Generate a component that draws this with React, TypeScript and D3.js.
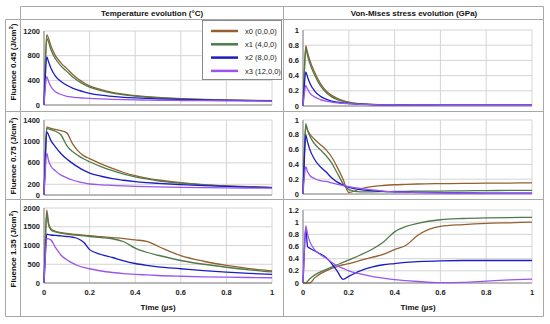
import React from "react";
import * as d3 from "d3";

const T = [0, 0.005, 0.012, 0.02, 0.03, 0.05, 0.075, 0.1, 0.125, 0.15, 0.175, 0.2, 0.25, 0.3, 0.35, 0.4, 0.45, 0.5, 0.6, 0.7, 0.8, 0.9, 1.0];

const seriesNames = ["x0 (0,0,0)", "x1 (4,0,0)", "x2 (8,0,0)", "x3 (12,0,0)"];
const seriesColors = ["#94602f", "#4f7a4a", "#1c1cc4", "#9a55f0"];

// Temperature, fluence 0.45
const tempA0 = [0, 600, 1140, 1080, 960, 800, 680, 590, 500, 420, 360, 310, 250, 205, 175, 150, 135, 122, 105, 92, 82, 75, 70];
const tempA1 = [0, 560, 1080, 1020, 900, 750, 630, 545, 460, 390, 335, 290, 232, 192, 165, 143, 128, 117, 100, 88, 80, 73, 68];
const tempA2 = [0, 400, 780, 700, 600, 470, 380, 320, 275, 240, 212, 190, 160, 140, 125, 115, 107, 100, 90, 82, 76, 71, 67];
const tempA3 = [0, 250, 460, 380, 300, 215, 170, 140, 128, 118, 112, 106, 98, 92, 87, 83, 80, 77, 73, 70, 68, 66, 64];

// Temperature, fluence 0.75
const tempB0 = [0, 640, 1270, 1260, 1245, 1225, 1200, 1160, 960, 820, 730, 680, 580, 495, 420, 360, 315, 280, 230, 195, 172, 155, 142];
const tempB1 = [0, 620, 1240, 1235, 1220, 1190, 1120, 920, 810, 735, 672, 620, 530, 455, 390, 340, 300, 265, 220, 188, 165, 150, 138];
const tempB2 = [0, 600, 1180, 1120, 1020, 900, 770, 670, 590, 520, 460, 410, 350, 305, 275, 250, 232, 218, 195, 175, 160, 148, 138];
const tempB3 = [0, 400, 780, 640, 540, 450, 370, 320, 280, 250, 225, 205, 190, 180, 170, 162, 156, 151, 143, 137, 133, 130, 127];

// Temperature, fluence 1.35
const tempC0 = [0, 1000, 1950, 1600, 1450, 1380, 1345, 1325, 1305, 1290, 1275, 1260, 1235, 1210, 1185, 1150, 1110, 980, 730, 580, 470, 385, 320];
const tempC1 = [0, 950, 1850, 1550, 1420, 1360, 1330, 1305, 1285, 1270, 1255, 1240, 1210, 1180, 1100, 930, 820, 740, 600, 500, 420, 350, 295];
const tempC2 = [0, 660, 1300, 1290, 1280, 1270, 1255, 1240, 1220, 1180, 1080, 890, 760, 680, 590, 520, 470, 430, 380, 330, 290, 255, 230];
const tempC3 = [0, 600, 1180, 1175, 1150, 950, 740, 620, 530, 460, 415, 380, 320, 280, 250, 230, 215, 200, 180, 165, 155, 147, 140];

// Stress, fluence 0.45
const stressD0 = [0, 0.4, 0.79, 0.7, 0.6, 0.45, 0.3, 0.2, 0.14, 0.1, 0.07, 0.05, 0.03, 0.02, 0.017, 0.015, 0.013, 0.012, 0.011, 0.01, 0.01, 0.01, 0.01];
const stressD1 = [0, 0.38, 0.75, 0.66, 0.56, 0.41, 0.27, 0.18, 0.12, 0.085, 0.06, 0.045, 0.028, 0.02, 0.016, 0.014, 0.013, 0.012, 0.011, 0.01, 0.01, 0.01, 0.01];
const stressD2 = [0, 0.23, 0.45, 0.38, 0.3, 0.2, 0.13, 0.09, 0.065, 0.05, 0.04, 0.032, 0.024, 0.018, 0.015, 0.013, 0.012, 0.011, 0.01, 0.01, 0.01, 0.01, 0.01];
const stressD3 = [0, 0.14, 0.27, 0.22, 0.17, 0.12, 0.085, 0.065, 0.05, 0.04, 0.035, 0.03, 0.022, 0.018, 0.015, 0.013, 0.012, 0.011, 0.01, 0.01, 0.01, 0.01, 0.01];

// Stress, fluence 0.75
const stressE0 = [0, 0.45, 0.92, 0.86, 0.81, 0.74, 0.67, 0.6, 0.5, 0.36, 0.2, 0.02, 0.07, 0.1, 0.115, 0.125, 0.13, 0.135, 0.14, 0.143, 0.146, 0.148, 0.15];
const stressE1 = [0, 0.47, 0.95, 0.86, 0.78, 0.68, 0.6, 0.52, 0.42, 0.28, 0.14, 0.06, 0.03, 0.03, 0.032, 0.034, 0.036, 0.038, 0.04, 0.043, 0.046, 0.048, 0.05];
const stressE2 = [0, 0.4, 0.8, 0.7, 0.6, 0.47, 0.37, 0.3, 0.22, 0.16, 0.12, 0.09, 0.06, 0.045, 0.035, 0.03, 0.025, 0.022, 0.018, 0.015, 0.013, 0.012, 0.01];
const stressE3 = [0, 0.2, 0.37, 0.3, 0.25, 0.21, 0.18, 0.17, 0.15, 0.13, 0.115, 0.1, 0.075, 0.055, 0.04, 0.03, 0.025, 0.02, 0.015, 0.012, 0.01, 0.01, 0.01];

// Stress, fluence 1.35
const stressF0 = [0, 0, 0, 0, 0, 0.08, 0.15, 0.2, 0.24, 0.27, 0.3, 0.32, 0.37, 0.42, 0.47, 0.55, 0.62, 0.78, 0.93, 0.96, 0.98, 0.99, 1.0];
const stressF1 = [0, 0, 0, 0.03, 0.07, 0.13, 0.18, 0.22, 0.26, 0.3, 0.34, 0.38, 0.46, 0.55, 0.67, 0.84, 0.93, 0.98, 1.04, 1.06, 1.07, 1.075, 1.08];
const stressF2 = [0, 0.45, 0.9, 0.6, 0.57, 0.53, 0.48, 0.42, 0.32, 0.19, 0.06, 0.11, 0.2, 0.26, 0.3, 0.32, 0.34, 0.35, 0.365, 0.37, 0.37, 0.37, 0.37];
const stressF3 = [0, 0.45, 0.94, 0.8, 0.68, 0.55, 0.47, 0.41, 0.34, 0.28, 0.24, 0.2, 0.15, 0.11, 0.08, 0.055, 0.04, 0.025, 0.005, 0.01, 0.03, 0.05, 0.065];

const xTicks = [0, 0.2, 0.4, 0.6, 0.8, 1];
const ticksA = [0, 400, 800, 1200];
const ticksB = [0, 200, 600, 1000, 1400];
const ticksC = [0, 500, 1000, 1500, 2000];
const ticksD = [0, 0.2, 0.4, 0.6, 0.8, 1];
const ticksE = [0, 0.2, 0.4, 0.6, 0.8, 1];
const ticksF = [0, 0.2, 0.4, 0.6, 0.8, 1, 1.2];

const rowLabels = ["Fluence 0.45 (J/cm", "Fluence 0.75 (J/cm", "Fluence 1.35 (J/cm"];
const colHeaders = ["Temperature evolution (\u00B0C)", "Von-Mises stress evolution (GPa)"];
const xTitle = "Time (\u00B5s)";

const FONT = "Liberation Sans, Arial, sans-serif";

type PanelProps = {
  x0: number; x1: number; y0: number; y1: number;
  yMax: number; yTicks: number[]; series: number[][]; showX: boolean;
};

function Panel({ x0, x1, y0, y1, yMax, yTicks, series, showX }: PanelProps) {
  const xs = d3.scaleLinear().domain([0, 1]).range([x0, x1]);
  const ys = d3.scaleLinear().domain([0, yMax]).range([y1, y0]);
  const line = d3.line<number>()
    .x((_, i) => xs(T[i]))
    .y((d) => ys(d))
    .curve(d3.curveMonotoneX);
  const fmt = (v: number) => String(v);
  return (
    <g>
      {yTicks.map((v) => (
        <line key={"h" + v} x1={x0} x2={x1} y1={ys(v)} y2={ys(v)} stroke="#d4d4d4" strokeWidth={1} />
      ))}
      {xTicks.map((v) => (
        <line key={"v" + v} x1={xs(v)} x2={xs(v)} y1={y0} y2={y1} stroke="#d4d4d4" strokeWidth={1} />
      ))}
      <line x1={x0} x2={x0} y1={y0} y2={y1} stroke="#8a8a8a" strokeWidth={1} />
      <line x1={x0} x2={x1} y1={y1} y2={y1} stroke="#8a8a8a" strokeWidth={1} />
      {yTicks.map((v) => (
        <text key={"t" + v} x={x0 - 4} y={ys(v)} dy="0.35em" textAnchor="end" fontSize={7.5} fontWeight="bold" fontFamily={FONT} fill="#222">
          {fmt(v)}
        </text>
      ))}
      {showX && xTicks.map((v) => (
        <text key={"x" + v} x={xs(v)} y={y1 + 12} textAnchor="middle" fontSize={7.5} fontWeight="bold" fontFamily={FONT} fill="#222">
          {fmt(v)}
        </text>
      ))}
      {series.map((s, i) => (
        <path key={"s" + i} d={line(s) || ""} fill="none" stroke={seriesColors[i]} strokeWidth={1.3} />
      ))}
    </g>
  );
}

export default function App() {
  const L = { x0: 44, x1: 272 };
  const R = { x0: 303, x1: 532 };
  const rowsY = [
    { y0: 31, y1: 105 },
    { y0: 120, y1: 195 },
    { y0: 208, y1: 283 },
  ];
  const rowsYR = [
    { y0: 30, y1: 106 },
    { y0: 120, y1: 194 },
    { y0: 210, y1: 283 },
  ];
  const labelCenters = [62, 156, 249];
  const border = "#a8a8a8";
  return (
    <svg width={550} height={324} style={{ position: "absolute", left: 0, top: 0, background: "#fff" }}>
      <rect x={0} y={0} width={550} height={324} fill="#fff" />
      <g stroke={border} strokeWidth={1} fill="none">
        <line x1={20.5} x2={543.5} y1={6.5} y2={6.5} />
        <line x1={5.5} x2={543.5} y1={19.5} y2={19.5} />
        <line x1={5.5} x2={543.5} y1={111.5} y2={111.5} />
        <line x1={5.5} x2={543.5} y1={199.5} y2={199.5} />
        <line x1={5.5} x2={543.5} y1={316.5} y2={316.5} />
        <line x1={5.5} x2={5.5} y1={19.5} y2={316.5} />
        <line x1={20.5} x2={20.5} y1={6.5} y2={316.5} />
        <line x1={283.5} x2={283.5} y1={6.5} y2={316.5} />
        <line x1={543.5} x2={543.5} y1={6.5} y2={316.5} />
      </g>
      <text x={152} y={16} textAnchor="middle" fontSize={8} fontWeight="bold" fontFamily={FONT} fill="#111">{colHeaders[0]}</text>
      <text x={414} y={16} textAnchor="middle" fontSize={8} fontWeight="bold" fontFamily={FONT} fill="#111">{colHeaders[1]}</text>
      {rowLabels.map((lab, i) => (
        <text key={"rl" + i} transform={`translate(16,${labelCenters[i]}) rotate(-90)`} textAnchor="middle" fontSize={8} fontWeight="bold" fontFamily={FONT} fill="#111">
          {lab}<tspan dy={-3} fontSize={5.5}>2</tspan><tspan dy={3}>)</tspan>
        </text>
      ))}
      <Panel x0={L.x0} x1={L.x1} y0={rowsY[0].y0} y1={rowsY[0].y1} yMax={1200} yTicks={ticksA} series={[tempA0, tempA1, tempA2, tempA3]} showX={false} />
      <Panel x0={L.x0} x1={L.x1} y0={rowsY[1].y0} y1={rowsY[1].y1} yMax={1400} yTicks={ticksB} series={[tempB0, tempB1, tempB2, tempB3]} showX={false} />
      <Panel x0={L.x0} x1={L.x1} y0={rowsY[2].y0} y1={rowsY[2].y1} yMax={2000} yTicks={ticksC} series={[tempC0, tempC1, tempC2, tempC3]} showX={true} />
      <Panel x0={R.x0} x1={R.x1} y0={rowsYR[0].y0} y1={rowsYR[0].y1} yMax={1} yTicks={ticksD} series={[stressD0, stressD1, stressD2, stressD3]} showX={false} />
      <Panel x0={R.x0} x1={R.x1} y0={rowsYR[1].y0} y1={rowsYR[1].y1} yMax={1} yTicks={ticksE} series={[stressE0, stressE1, stressE2, stressE3]} showX={false} />
      <Panel x0={R.x0} x1={R.x1} y0={rowsYR[2].y0} y1={rowsYR[2].y1} yMax={1.2} yTicks={ticksF} series={[stressF0, stressF1, stressF2, stressF3]} showX={true} />
      <text x={158} y={310} textAnchor="middle" fontSize={8} fontWeight="bold" fontFamily={FONT} fill="#111">{xTitle}</text>
      <text x={418} y={310} textAnchor="middle" fontSize={8} fontWeight="bold" fontFamily={FONT} fill="#111">{xTitle}</text>
      <g>
        <rect x={202.5} y={20.5} width={79} height={59} fill="#fff" stroke="#8a8a8a" strokeWidth={1} />
        {seriesNames.map((n, i) => (
          <g key={"lg" + i}>
            <line x1={211} x2={238} y1={31 + i * 13.3} y2={31 + i * 13.3} stroke={seriesColors[i]} strokeWidth={2.5} />
            <text x={245} y={31 + i * 13.3} dy="0.35em" fontSize={7.5} fontFamily={FONT} fill="#222">{n}</text>
          </g>
        ))}
      </g>
    </svg>
  );
}
